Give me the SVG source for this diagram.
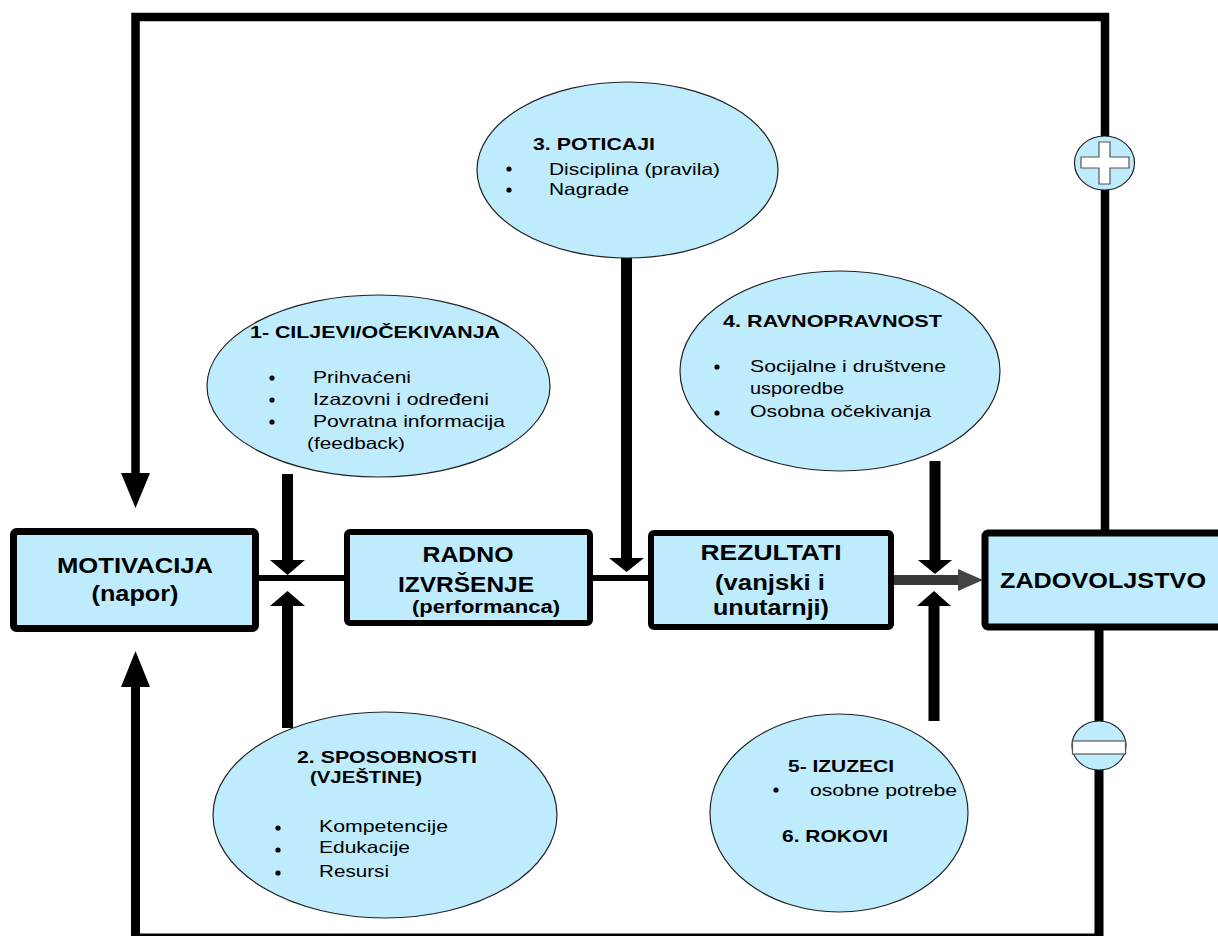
<svg xmlns="http://www.w3.org/2000/svg" width="1218" height="936" viewBox="0 0 1218 936">
<style>
.box{fill:#bfecfd;stroke:#000;stroke-width:7;stroke-linejoin:round}
.ell{fill:#bfecfd;stroke:#222;stroke-width:1.2}
.t{font-family:"Liberation Sans",Arial,sans-serif;fill:#000}
.b{font-weight:bold}
.big{font-size:22px;font-weight:bold}
.h{font-size:17px;font-weight:bold}
.n{font-size:16.5px}
.ln{fill:none;stroke:#000;stroke-linecap:butt;stroke-linejoin:miter}
.head{fill:#000}
.sym{fill:#fff;stroke:#555;stroke-width:1.2}
</style>
<rect width="1218" height="936" fill="#fff"/>

<g id="connectors">
  <!-- feedback loops -->
  <path class="ln" stroke-width="8.5" d="M1105,143 V17 H135.5 V475"/>
  <polygon class="head" points="121,473 150,473 135.5,508"/>
  <path class="ln" stroke-width="8.5" d="M1105,187 V533"/>
  <path class="ln" stroke-width="9" d="M1099,630 V722"/>
  <path class="ln" stroke-width="9" d="M1099,769 V938 H135.5 V685"/>
  <polygon class="head" points="121,687 150,687 135.5,651"/>
  <!-- main chain -->
  <line class="ln" stroke-width="6" x1="258" y1="578" x2="348" y2="578"/>
  <line class="ln" stroke-width="6" x1="592" y1="578" x2="652" y2="578"/>
  <g opacity="0.78">
    <line class="ln" stroke-width="10" x1="893" y1="580" x2="960" y2="580" stroke="#111"/>
    <polygon points="958,569 983,580 958,591" fill="#111"/>
  </g>
  <!-- influence arrows -->
  <line class="ln" stroke-width="11" x1="287.5" y1="474" x2="287.5" y2="561"/>
  <polygon class="head" points="270,560 305,560 287.5,575"/>
  <line class="ln" stroke-width="11" x1="287.5" y1="728" x2="287.5" y2="605"/>
  <polygon class="head" points="270,606 305,606 287.5,591"/>
  <line class="ln" stroke-width="11" x1="626.5" y1="254" x2="626.5" y2="559"/>
  <polygon class="head" points="609,558 644,558 626.5,572"/>
  <line class="ln" stroke-width="11" x1="935" y1="461" x2="935" y2="561"/>
  <polygon class="head" points="918,560 952,560 935,574"/>
  <line class="ln" stroke-width="11" x1="934" y1="721" x2="934" y2="605"/>
  <polygon class="head" points="917,606 951,606 934,591"/>
</g>

<g id="plus">
  <ellipse class="ell" cx="1104.5" cy="163" rx="30" ry="27"/>
  <path class="sym" d="M1099,142 H1110 V157 H1129 V168 H1110 V184 H1099 V168 H1081 V157 H1099 Z"/>
</g>
<g id="minus">
  <ellipse class="ell" cx="1099" cy="745.5" rx="27" ry="24.5"/>
  <rect class="sym" x="1072.5" y="741" width="53" height="13"/>
</g>

<g id="motivacija">
  <rect class="box" x="13.5" y="531.5" width="242" height="97" rx="3"/>
  <text class="t big" x="135" y="573" text-anchor="middle" textLength="156" lengthAdjust="spacingAndGlyphs">MOTIVACIJA</text>
  <text class="t big" x="135" y="601" text-anchor="middle" textLength="87" lengthAdjust="spacingAndGlyphs">(napor)</text>
</g>

<g id="radno">
  <rect class="box" x="347" y="532" width="243" height="91" rx="3" style="stroke-width:6"/>
  <text class="t big" x="468" y="562" text-anchor="middle" textLength="91" lengthAdjust="spacingAndGlyphs">RADNO</text>
  <text class="t big" x="466" y="592" text-anchor="middle" textLength="136" lengthAdjust="spacingAndGlyphs">IZVRŠENJE</text>
  <text class="t b" style="font-size:18px" x="486" y="613" text-anchor="middle" textLength="148" lengthAdjust="spacingAndGlyphs">(performanca)</text>
</g>

<g id="rezultati">
  <rect class="box" x="651" y="533" width="240" height="94" rx="3" style="stroke-width:6"/>
  <text class="t big" x="771" y="560" text-anchor="middle" textLength="141" lengthAdjust="spacingAndGlyphs">REZULTATI</text>
  <text class="t big" x="770" y="590" text-anchor="middle" textLength="110" lengthAdjust="spacingAndGlyphs">(vanjski i</text>
  <text class="t big" x="771" y="615" text-anchor="middle" textLength="116" lengthAdjust="spacingAndGlyphs">unutarnji)</text>
</g>

<g id="zadovoljstvo">
  <rect class="box" x="985" y="533" width="260" height="94" rx="3"/>
  <text class="t big" x="1000" y="588" textLength="206" lengthAdjust="spacingAndGlyphs">ZADOVOLJSTVO</text>
</g>

<g id="ciljevi">
  <ellipse class="ell" cx="378.5" cy="386" rx="171.5" ry="91"/>
  <text class="t h" x="250" y="338" textLength="250" lengthAdjust="spacingAndGlyphs">1- CILJEVI/OČEKIVANJA</text>
  <circle cx="272" cy="378" r="2.6"/>
  <circle cx="272" cy="400" r="2.6"/>
  <circle cx="272" cy="422" r="2.6"/>
  <text class="t n" x="313" y="383" textLength="98" lengthAdjust="spacingAndGlyphs">Prihvaćeni</text>
  <text class="t n" x="313" y="405" textLength="176" lengthAdjust="spacingAndGlyphs">Izazovni i određeni</text>
  <text class="t n" x="313" y="427" textLength="192" lengthAdjust="spacingAndGlyphs">Povratna informacija</text>
  <text class="t n" x="307" y="449" textLength="98" lengthAdjust="spacingAndGlyphs">(feedback)</text>
</g>

<g id="poticaji">
  <ellipse class="ell" cx="627.5" cy="170" rx="150.5" ry="88"/>
  <text class="t h" x="533" y="150" textLength="122" lengthAdjust="spacingAndGlyphs">3. POTICAJI</text>
  <circle cx="509" cy="169" r="2.6"/>
  <circle cx="509" cy="190" r="2.6"/>
  <text class="t n" x="549" y="175" textLength="171" lengthAdjust="spacingAndGlyphs">Disciplina (pravila)</text>
  <text class="t n" x="549" y="195" textLength="80" lengthAdjust="spacingAndGlyphs">Nagrade</text>
</g>

<g id="ravnopravnost">
  <ellipse class="ell" cx="840" cy="371" rx="160" ry="100"/>
  <text class="t h" x="723" y="327" textLength="219" lengthAdjust="spacingAndGlyphs">4. RAVNOPRAVNOST</text>
  <circle cx="717" cy="367" r="2.6"/>
  <circle cx="717" cy="413" r="2.6"/>
  <text class="t n" x="750" y="372" textLength="196" lengthAdjust="spacingAndGlyphs">Socijalne i društvene</text>
  <text class="t n" x="750" y="394" textLength="94" lengthAdjust="spacingAndGlyphs">usporedbe</text>
  <text class="t n" x="750" y="417" textLength="181" lengthAdjust="spacingAndGlyphs">Osobna očekivanja</text>
</g>

<g id="sposobnosti">
  <ellipse class="ell" cx="385" cy="815" rx="172" ry="103"/>
  <text class="t h" x="297" y="763" textLength="180" lengthAdjust="spacingAndGlyphs">2. SPOSOBNOSTI</text>
  <text class="t h" x="310" y="783" textLength="112" lengthAdjust="spacingAndGlyphs">(VJEŠTINE)</text>
  <circle cx="278" cy="828" r="2.6"/>
  <circle cx="278" cy="850" r="2.6"/>
  <circle cx="278" cy="873" r="2.6"/>
  <text class="t n" x="319" y="832" textLength="129" lengthAdjust="spacingAndGlyphs">Kompetencije</text>
  <text class="t n" x="319" y="853" textLength="91" lengthAdjust="spacingAndGlyphs">Edukacije</text>
  <text class="t n" x="319" y="877" textLength="70" lengthAdjust="spacingAndGlyphs">Resursi</text>
</g>

<g id="izuzeci">
  <ellipse class="ell" cx="839" cy="813" rx="129" ry="99"/>
  <text class="t h" x="788" y="772" textLength="106" lengthAdjust="spacingAndGlyphs">5- IZUZECI</text>
  <circle cx="776" cy="790" r="2.6"/>
  <text class="t n" x="810" y="796" textLength="147" lengthAdjust="spacingAndGlyphs">osobne potrebe</text>
  <text class="t h" x="782" y="842" textLength="106" lengthAdjust="spacingAndGlyphs">6. ROKOVI</text>
</g>
</svg>
